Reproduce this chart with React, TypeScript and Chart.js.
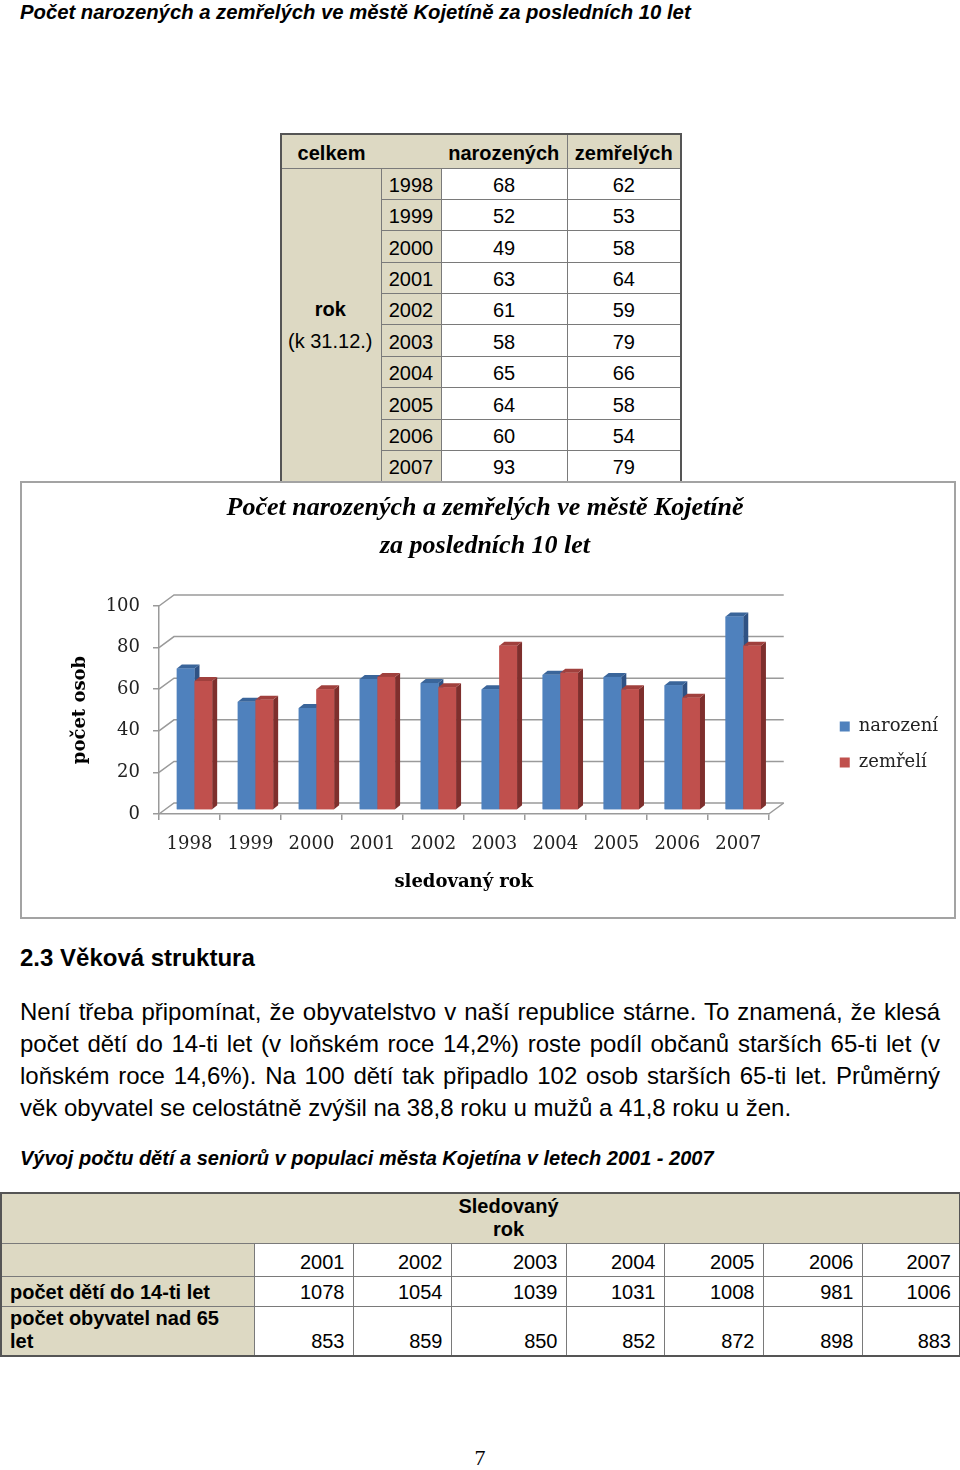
import React, { useEffect, useRef } from 'react';
import { Chart, registerables } from 'chart.js';

Chart.register(...registerables);

// ---------- data ----------
const pageTitle = 'Počet narozených a zemřelých ve městě Kojetíně za posledních 10 let';
const years = ['1998', '1999', '2000', '2001', '2002', '2003', '2004', '2005', '2006', '2007'];
const births = [68, 52, 49, 63, 61, 58, 65, 64, 60, 93];
const deaths = [62, 53, 58, 64, 59, 79, 66, 58, 54, 79];
const seriesLabels = ['narození', 'zemřelí'];
const chartTitle = ['Počet narozených a zemřelých ve městě Kojetíně', 'za posledních 10 let'];
const yAxisTitle = 'počet osob';
const xAxisTitle = 'sledovaný rok';
const yMin = 0;
const yMax = 100;
const yStep = 20;

const table2Years = ['2001', '2002', '2003', '2004', '2005', '2006', '2007'];
const children = [1078, 1054, 1039, 1031, 1008, 981, 1006];
const seniors = [853, 859, 850, 852, 872, 898, 883];

const paragraphLines = [
  'Není třeba připomínat, že obyvatelstvo v naší republice stárne. To znamená, že klesá',
  'počet dětí do 14-ti let (v loňském roce 14,2%) roste podíl občanů starších 65-ti let (v',
  'loňském roce 14,6%). Na 100 dětí tak připadlo 102 osob starších 65-ti let. Průměrný',
  'věk obyvatel se celostátně zvýšil na 38,8 roku u mužů a 41,8 roku u žen.',
];

// ---------- styles ----------
const BLUE = '#4F81BD';
const RED = '#C0504D';
const faceColors = [
  { side: '#2F5284', top: '#3A659A' },
  { side: '#7E2F2D', top: '#A0403D' },
];
const GRID = '#9a9a9a';
const BEIGE = '#DDD9C3';
const DX = 5;
const DY = 4;
const WALL_DX = 15;
const WALL_DY = 11;

const depthPlugin = {
  id: 'depth3d',
  beforeDatasetsDraw(chart: any) {
    const { ctx, chartArea: a, scales } = chart;
    const y = scales.y;
    ctx.save();
    ctx.strokeStyle = GRID;
    ctx.lineWidth = 1.5;
    y.ticks.forEach((t: any) => {
      const py = y.getPixelForValue(t.value);
      ctx.beginPath();
      ctx.moveTo(a.left, py);
      ctx.lineTo(a.left + WALL_DX, py - WALL_DY);
      ctx.lineTo(a.right + WALL_DX, py - WALL_DY);
      ctx.stroke();
    });
    ctx.beginPath();
    ctx.moveTo(a.right, a.bottom);
    ctx.lineTo(a.right + WALL_DX, a.bottom - WALL_DY);
    ctx.stroke();
    ctx.restore();
    ctx.save();
    ctx.translate(DX, -DY);
  },
  afterDatasetsDraw(chart: any) {
    const ctx = chart.ctx;
    chart.data.datasets.forEach((ds: any, i: number) => {
      const meta = chart.getDatasetMeta(i);
      const fc = faceColors[i];
      meta.data.forEach((bar: any) => {
        const { x, y, base, width } = bar.getProps(['x', 'y', 'base', 'width'], true);
        const l = x - width / 2;
        const r = x + width / 2;
        // side
        ctx.fillStyle = fc.side;
        ctx.beginPath();
        ctx.moveTo(r, y);
        ctx.lineTo(r + DX, y - DY);
        ctx.lineTo(r + DX, base - DY);
        ctx.lineTo(r, base);
        ctx.closePath();
        ctx.fill();
        // top
        ctx.fillStyle = fc.top;
        ctx.beginPath();
        ctx.moveTo(l, y);
        ctx.lineTo(l + DX, y - DY);
        ctx.lineTo(r + DX, y - DY);
        ctx.lineTo(r, y);
        ctx.closePath();
        ctx.fill();
        // front
        ctx.fillStyle = ds.backgroundColor;
        ctx.fillRect(l, y, width, base - y);
      });
    });
    ctx.restore();
  },
};

const serif = 'DejaVu Serif';

function ChartBox() {
  const ref = useRef<HTMLCanvasElement>(null);
  useEffect(() => {
    const chart = new Chart(ref.current as HTMLCanvasElement, {
      type: 'bar',
      data: {
        labels: years,
        datasets: [
          { label: seriesLabels[0], data: births, backgroundColor: BLUE, borderWidth: 0, categoryPercentage: 0.58, barPercentage: 1, clip: false } as any,
          { label: seriesLabels[1], data: deaths, backgroundColor: RED, borderWidth: 0, categoryPercentage: 0.58, barPercentage: 1, clip: false } as any,
        ],
      },
      options: {
        responsive: false,
        animation: false,
        devicePixelRatio: 1,
        layout: { padding: { top: 0, left: 0, right: 6, bottom: 10 } },
        plugins: {
          title: {
            display: true,
            text: chartTitle,
            color: '#000',
            font: { family: 'Liberation Serif', size: 26, style: 'italic', weight: 'bold', lineHeight: 38 / 26 },
            padding: { top: 6, bottom: 41 },
          },
          legend: {
            position: 'right',
            fullSize: false,
            align: 'center',
            labels: { boxWidth: 10, boxHeight: 10, padding: 18, color: '#222', font: { family: serif, size: 18 } },
            title: { display: true, text: '', font: { size: 10, lineHeight: 1.2 }, padding: { top: 57, bottom: 0 } },
          },
          tooltip: { enabled: false },
        },
        scales: {
          x: {
            grid: { display: true, drawOnChartArea: false, drawTicks: true, tickLength: 6, color: GRID, lineWidth: 1.5 },
            border: { display: true, color: GRID, width: 1.5 },
            ticks: { color: '#222', font: { family: serif, size: 18 }, padding: 14, maxRotation: 0 },
            title: { display: true, text: xAxisTitle, color: '#000', font: { family: serif, size: 18, weight: 'bold' }, padding: { top: 0, bottom: 14 } },
            afterFit: (s: any) => { s.height = 93; },
          },
          y: {
            min: yMin,
            max: yMax,
            ticks: { stepSize: yStep, color: '#222', font: { family: serif, size: 18 }, padding: 13 },
            grid: { display: true, drawOnChartArea: false, drawTicks: true, tickLength: 6, color: GRID, lineWidth: 1.5 },
            border: { display: true, color: GRID, width: 1.5 },
            title: { display: true, text: yAxisTitle, color: '#000', font: { family: serif, size: 18, weight: 'bold' }, padding: { top: 48, bottom: 0 } },
            afterFit: (s: any) => { s.width = 137; },
          },
          yR: {
            type: 'linear',
            axis: 'y',
            position: 'right',
            display: true,
            grid: { display: false },
            ticks: { display: false },
            border: { display: false },
            afterFit: (s: any) => { s.width = 53; },
          },
        },
      } as any,
      plugins: [depthPlugin],
    });
    return () => chart.destroy();
  }, []);
  return <canvas ref={ref} width={932} height={434} style={{ display: 'block', width: 932, height: 434 }} />;
}

const bd = '1px solid #7a7a7a';

export default function App() {
  const cell1: React.CSSProperties = { border: bd, padding: '0 4px', lineHeight: '24px', verticalAlign: 'bottom', textAlign: 'center' };
  const cell2: React.CSSProperties = { border: bd, padding: '0 8px 2px 8px', lineHeight: '23px', verticalAlign: 'bottom', textAlign: 'right' };
  return (
    <div style={{ position: 'absolute', left: 0, top: 0, width: 960, height: 1470, background: '#fff', color: '#000', fontFamily: '"Liberation Sans", Arial, sans-serif' }}>
      <div style={{ position: 'absolute', left: 20, top: 0, fontSize: 20.3, lineHeight: '24px', fontWeight: 'bold', fontStyle: 'italic', whiteSpace: 'nowrap' }}>{pageTitle}</div>

      <table style={{ position: 'absolute', left: 280, top: 133, width: 400, borderCollapse: 'collapse', tableLayout: 'fixed', fontSize: 20, border: '2px solid #555' }}>
        <colgroup>
          <col style={{ width: 100 }} />
          <col style={{ width: 60 }} />
          <col style={{ width: 126 }} />
          <col style={{ width: 114 }} />
        </colgroup>
        <tbody>
          <tr style={{ height: 34 }}>
            <td style={{ ...cell1, background: BEIGE, fontWeight: 'bold', borderRight: 'none', paddingBottom: 3 }}>celkem</td>
            <td style={{ ...cell1, background: BEIGE, borderLeft: 'none', borderRight: 'none' }}></td>
            <td style={{ ...cell1, background: BEIGE, fontWeight: 'bold', borderLeft: 'none', padding: '0 0 3px 0' }}>narozených</td>
            <td style={{ ...cell1, background: BEIGE, fontWeight: 'bold', padding: '0 0 3px 0' }}>zemřelých</td>
          </tr>
          {years.map((y, i) => (
            <tr key={y} style={{ height: 31.4 }}>
              {i === 0 && (
                <td rowSpan={years.length} style={{ ...cell1, background: BEIGE, verticalAlign: 'middle', lineHeight: '32px', padding: '0 2px 0 0' }}>
                  <div style={{ fontWeight: 'bold' }}>rok</div>
                  <div style={{ whiteSpace: 'nowrap' }}>(k 31.12.)</div>
                </td>
              )}
              <td style={{ ...cell1, background: BEIGE, padding: '0 0 2px 0' }}>{y}</td>
              <td style={{ ...cell1, paddingBottom: 2 }}>{births[i]}</td>
              <td style={{ ...cell1, paddingBottom: 2 }}>{deaths[i]}</td>
            </tr>
          ))}
        </tbody>
      </table>

      <div style={{ position: 'absolute', left: 20, top: 481, width: 936, height: 438, border: '2px solid #a3a3a3', boxSizing: 'border-box', background: '#fff' }}>
        <ChartBox />
      </div>

      <div style={{ position: 'absolute', left: 20, top: 944, fontSize: 24, lineHeight: '28px', fontWeight: 'bold', whiteSpace: 'nowrap' }}>2.3 Věková struktura</div>

      <div style={{ position: 'absolute', left: 20, top: 996, width: 920, fontSize: 24, lineHeight: '32px' }}>
        {paragraphLines.map((ln, i) => (
          <div key={i} style={{ textAlign: i < paragraphLines.length - 1 ? 'justify' : 'left', textAlignLast: i < paragraphLines.length - 1 ? 'justify' : 'left', whiteSpace: 'nowrap' } as React.CSSProperties}>{ln}</div>
        ))}
      </div>

      <div style={{ position: 'absolute', left: 20, top: 1146, fontSize: 20, lineHeight: '24px', fontWeight: 'bold', fontStyle: 'italic', whiteSpace: 'nowrap' }}>Vývoj počtu dětí a seniorů v populaci města Kojetína v letech 2001 - 2007</div>

      <table style={{ position: 'absolute', left: 0, top: 1192, width: 959, borderCollapse: 'collapse', tableLayout: 'fixed', fontSize: 20, border: '2px solid #555' }}>
        <colgroup>
          <col style={{ width: 253 }} />
          {[99, 98, 115, 98, 99, 99, 98].map((w, i) => <col key={i} style={{ width: w }} />)}
        </colgroup>
        <tbody>
          <tr style={{ height: 50 }}>
            <td colSpan={3} style={{ background: BEIGE, borderBottom: bd }}></td>
            <td style={{ background: BEIGE, borderBottom: bd, textAlign: 'center', fontWeight: 'bold', lineHeight: '23px', verticalAlign: 'middle', padding: 0 }}>Sledovaný rok</td>
            <td colSpan={4} style={{ background: BEIGE, borderBottom: bd }}></td>
          </tr>
          <tr style={{ height: 33 }}>
            <td style={{ ...cell2, background: BEIGE }}></td>
            {table2Years.map((y) => <td key={y} style={cell2}>{y}</td>)}
          </tr>
          <tr style={{ height: 30 }}>
            <td style={{ ...cell2, background: BEIGE, textAlign: 'left', fontWeight: 'bold' }}>počet dětí do 14-ti let</td>
            {children.map((v, i) => <td key={i} style={cell2}>{v}</td>)}
          </tr>
          <tr style={{ height: 47 }}>
            <td style={{ ...cell2, background: BEIGE, textAlign: 'left', fontWeight: 'bold' }}>počet obyvatel nad 65<br />let</td>
            {seniors.map((v, i) => <td key={i} style={cell2}>{v}</td>)}
          </tr>
        </tbody>
      </table>

      <div style={{ position: 'absolute', left: 0, width: 960, top: 1445, textAlign: 'center', fontFamily: '"Liberation Serif", serif', fontSize: 22, lineHeight: '26px' }}>7</div>
    </div>
  );
}
